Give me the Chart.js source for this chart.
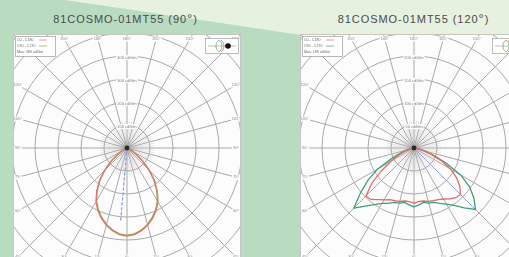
<!DOCTYPE html>
<html><head><meta charset="utf-8">
<script src="https://cdn.jsdelivr.net/npm/chart.js@4"></script>
<style>
html,body{margin:0;padding:0;width:509px;height:257px;overflow:hidden;background:#b9dcc1;font-family:"Liberation Sans",Arial,sans-serif;}
#light{position:absolute;left:0;top:0;width:509px;height:257px;background:#e6f2df;clip-path:polygon(65px 0,509px 0,509px 34px,301px 35px);}
.title{position:absolute;top:13px;width:241px;text-align:center;font-family:"Liberation Sans",Arial,sans-serif;font-weight:normal;font-size:11px;line-height:12px;letter-spacing:0.95px;color:#4a4a4a;white-space:nowrap;}
.deg{font-size:13px;}
.panel{position:absolute;top:34px;width:226px;height:230px;overflow:hidden;background:#fcfcfc;border:1px solid #c6c6c6;}
.panel canvas{position:absolute;left:-48px;top:-48px;}
</style></head><body>
<div id="light"></div>
<div class="title" style="left:5px">81COSMO-01MT55 (90<span class="deg">°</span>)</div>
<div class="title" style="left:293px">81COSMO-01MT55 (120<span class="deg">°</span>)</div>
<div class="panel" style="left:13px"><canvas id="c1" width="322" height="322"></canvas></div>
<div class="panel" style="left:300px"><canvas id="c2" width="322" height="322"></canvas></div>
<script>
// gamma samples 0..90 deg in 5 deg steps (values in cd/klm), 0 beyond 90 deg
const gammaStep = 5;
// 81COSMO-01MT55 (90°)
const c0c180_90  = [383,378,365,348,326,300,270,230,187,139,91,52,26,13,4,0,0,0,0];
const c90c270_90 = [380,375,362,344,321,296,265,226,183,136,89,50,25,12,4,0,0,0,0];
const beam_90 = [[5,320]];           // [gamma, value]
// 81COSMO-01MT55 (120°)  left half (C180 / C270) and right half (C0 / C90)
const c0c180_120_left   = [120,117,117,120,122,124,130,137,146,148,120,87,57,37,22,11,4,2,0];
const c0c180_120_right  = [120,117,117,120,122,124,128,135,141,143,130,113,93,65,39,20,9,2,0];
const c90c270_120_left  = [128,124,120,124,126,133,139,150,165,185,152,122,91,52,28,15,7,2,0];
const c90c270_120_right = [128,124,120,124,126,133,141,152,170,189,170,148,117,76,43,22,9,2,0];
const beam_120 = [[315,187]];
// circle steps
const step90 = 100, step120 = 50;
const legend90 = ['C0 - C180','C90 - C270','Max: 383 cd/klm'];
const legend120 = ['C0 - C180','C90 - C270','Max: 189 cd/klm'];

const N = 360 / gammaStep;
const angleLabels = [];
for (let i = 0; i < N; i++) angleLabels.push((i * gammaStep) + '°');

function fullProfile(leftHalf, rightHalf) {
  const a = new Array(N).fill(0);
  for (let j = 0; j < leftHalf.length; j++) a[j] = leftHalf[j];
  for (let j = 1; j < rightHalf.length; j++) a[N - j] = rightHalf[j];
  return a;
}
function beamProfile(list) {
  const a = new Array(N).fill(0);
  list.forEach(([g, v]) => { a[Math.round(g / gammaStep) % N] = v; });
  return a;
}

const deco = {
  id: 'deco',
  beforeDatasetsDraw(chart) {
    const s = chart.scales.r, ctx = chart.ctx;
    const step = s.options.ticks.stepSize;
    const cx = s.xCenter, cy = s.yCenter;
    ctx.save();
    // fine inner radial lines
    const r1 = s.getDistanceFromCenterForValue(step) + 4;
    ctx.strokeStyle = 'rgba(150,150,150,0.38)'; ctx.lineWidth = 0.6;
    for (let i = 0; i < N; i++) {
      if (i % 3 === 0) continue;
      const p = s.getPointPosition(i, r1);
      ctx.beginPath(); ctx.moveTo(cx, cy); ctx.lineTo(p.x, p.y); ctx.stroke();
    }
    // circle value labels
    ctx.font = '4px "Liberation Sans", Arial'; ctx.textAlign = 'center'; ctx.textBaseline = 'middle';
    for (let k = 1; k <= 4; k++) {
      const v = k * step;
      const p = s.getPointPosition(N / 2, s.getDistanceFromCenterForValue(v));
      const t = v + ' cd/klm';
      const w = ctx.measureText(t).width;
      ctx.fillStyle = '#fcfcfc'; ctx.fillRect(p.x - w / 2 - 1, p.y - 1, w + 2, 5);
      ctx.fillStyle = '#808080'; ctx.fillText(t, p.x, p.y + 1.5);
    }
    // perimeter angle labels
    for (let i = 0; i < N; i += 3) {
      const p = s.getPointPosition(i, 100);
      const ux = (p.x - cx) / 100, uy = (p.y - cy) / 100;
      const t = Math.min(Math.abs(ux) > 1e-6 ? 109 / Math.abs(ux) : 1e9, Math.abs(uy) > 1e-6 ? 109 / Math.abs(uy) : 1e9);
      const g = i * gammaStep, lbl = (g <= 180 ? g : 360 - g) + '°';
      const x = cx + ux * t, y = cy + uy * t;
      const w = ctx.measureText(lbl).width;
      ctx.fillStyle = '#fcfcfc'; ctx.fillRect(x - w / 2 - 1, y - 2.5, w + 2, 5);
      ctx.fillStyle = '#8a8a8a'; ctx.fillText(lbl, x, y);
    }
    ctx.restore();
  },
  afterDatasetsDraw(chart, args, opts) {
    const s = chart.scales.r, ctx = chart.ctx;
    ctx.save();
    ctx.fillStyle = '#2a2a2a';
    ctx.beginPath(); ctx.arc(s.xCenter, s.yCenter, 2.4, 0, Math.PI * 2); ctx.fill();
    // legend box (top-left)
    const lx = 49, ly = 49;
    ctx.fillStyle = '#fff'; ctx.fillRect(lx, ly, 40, 20);
    ctx.strokeStyle = '#9a9a9a'; ctx.lineWidth = 0.7; ctx.strokeRect(lx + 0.5, ly + 0.5, 40, 20);
    ctx.font = '3.6px "Liberation Sans", Arial'; ctx.textAlign = 'left'; ctx.textBaseline = 'middle';
    const cols = chart.data.datasets.map(d => d.borderColor);
    opts.lines.forEach((t, k) => {
      const y = ly + 4 + k * 6;
      ctx.fillStyle = '#666'; ctx.fillText(t, lx + 2, y);
      if (k < 2) { ctx.strokeStyle = cols[k]; ctx.beginPath(); ctx.moveTo(lx + 24, y); ctx.lineTo(lx + 32, y); ctx.stroke(); }
    });
    // luminaire icon (top-right)
    const ix = 239, iy = 51;
    ctx.fillStyle = '#fff'; ctx.fillRect(ix, iy, 33, 15);
    ctx.strokeStyle = '#a0a0a0'; ctx.strokeRect(ix + 0.5, iy + 0.5, 33, 15);
    ctx.beginPath(); ctx.moveTo(ix + 3, iy + 8); ctx.lineTo(ix + 31, iy + 8); ctx.stroke();
    ctx.strokeStyle = 'rgba(120,170,120,0.8)'; ctx.lineWidth = 1;
    ctx.beginPath(); ctx.ellipse(ix + 14, iy + 8, 3, 5.5, 0, 0, Math.PI * 2); ctx.stroke();
    ctx.strokeStyle = 'rgba(220,110,100,0.8)';
    ctx.beginPath(); ctx.ellipse(ix + 16, iy + 8, 3, 5.5, 0, -Math.PI / 2, Math.PI / 2); ctx.stroke();
    ctx.fillStyle = '#111'; ctx.beginPath(); ctx.arc(ix + 23, iy + 8, 2.8, 0, Math.PI * 2); ctx.fill();
    ctx.restore();
  }
};

function makeChart(id, step, red, green, beam, redCol, greenCol, lines) {
  return new Chart(document.getElementById(id), {
    type: 'radar',
    data: {
      labels: angleLabels,
      datasets: [
        { data: red, borderColor: redCol },
        { data: green, borderColor: greenCol },
        { data: beam, borderColor: '#8aa2e0', borderDash: [3, 2], borderWidth: 0.9 }
      ]
    },
    options: {
      responsive: false, devicePixelRatio: 1, animation: false,
      layout: { padding: 0 },
      elements: { line: { tension: 0, fill: false, borderWidth: 1.3 }, point: { radius: 0, hitRadius: 0 } },
      plugins: { legend: { display: false }, tooltip: { enabled: false }, deco: { lines: lines } },
      scales: {
        r: {
          min: 0, max: step * 7, startAngle: 180,
          ticks: { display: false, stepSize: step },
          pointLabels: { display: false },
          grid: { circular: true, color: '#a8a8a8', lineWidth: 1 },
          angleLines: { display: true, lineWidth: 1, color: c => (c.index % 3 === 0 ? '#a8a8a8' : 'rgba(0,0,0,0)') }
        }
      }
    },
    plugins: [deco]
  });
}

makeChart('c1', step90, fullProfile(c0c180_90, c0c180_90), fullProfile(c90c270_90, c90c270_90),
  beamProfile(beam_90), '#e07a68', '#8f9e50', legend90);
makeChart('c2', step120, fullProfile(c0c180_120_left, c0c180_120_right), fullProfile(c90c270_120_left, c90c270_120_right),
  beamProfile(beam_120), '#e36a6a', '#3f9f7a', legend120);
</script>
</body></html>
